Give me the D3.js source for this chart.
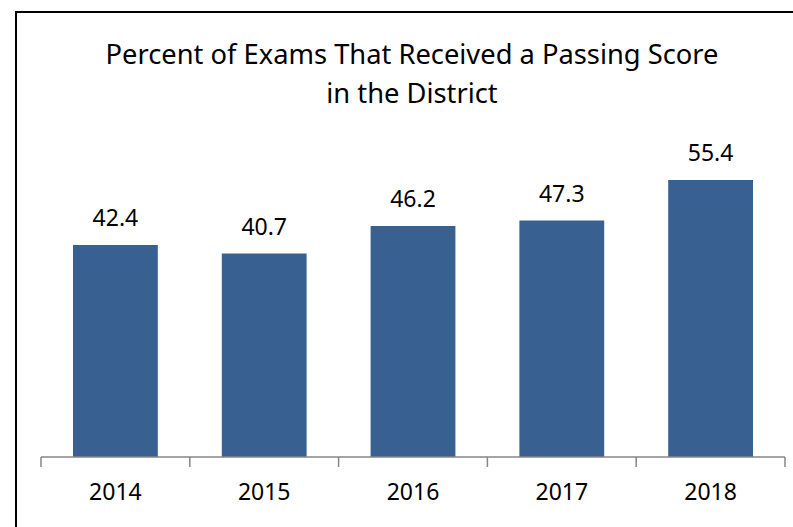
<!DOCTYPE html>
<html>
<head>
<meta charset="utf-8">
<script src="https://cdn.jsdelivr.net/npm/d3@7/dist/d3.min.js"></script>
<style>
  html, body { margin: 0; padding: 0; background: #fff; }
  svg { display: block; font-family: "Noto Sans", sans-serif; }
</style>
</head>
<body>
<div id="chart"></div>
<script>
const years = ["2014", "2015", "2016", "2017", "2018"];
const passRates = [42.4, 40.7, 46.2, 47.3, 55.4];
const titleLines = ["Percent of Exams That Received a Passing Score", "in the District"];

const width = 793;
const height = 527;
const margin = { top: 157, right: 8, bottom: 70, left: 41 };

const svg = d3.select("#chart")
  .append("svg")
  .attr("width", width)
  .attr("height", height);

// outer frame, cropped on the right and bottom
svg.append("rect")
  .attr("x", 16)
  .attr("y", 12)
  .attr("width", 800)
  .attr("height", 560)
  .attr("fill", "none")
  .attr("stroke", "#000")
  .attr("stroke-width", 2);

const x = d3.scaleBand()
  .domain(years)
  .range([margin.left, width - margin.right])
  .paddingInner(0.43)
  .paddingOuter(0.215);

const y = d3.scaleLinear()
  .domain([0, 60])
  .range([height - margin.bottom, margin.top]);

svg.append("g")
  .selectAll("text")
  .data(titleLines)
  .join("text")
  .attr("x", 412)
  .attr("y", (d, i) => 64 + i * 39)
  .attr("text-anchor", "middle")
  .attr("font-size", 27.3)
  .attr("fill", "#000")
  .text((d) => d);

svg.append("g")
  .selectAll("rect")
  .data(passRates)
  .join("rect")
  .attr("x", (d, i) => x(years[i]))
  .attr("y", (d) => y(d))
  .attr("width", x.bandwidth())
  .attr("height", (d) => y(0) - y(d))
  .attr("fill", "#386192");

svg.append("g")
  .selectAll("text")
  .data(passRates)
  .join("text")
  .attr("x", (d, i) => x(years[i]) + x.bandwidth() / 2)
  .attr("y", (d) => y(d) - 19)
  .attr("text-anchor", "middle")
  .attr("font-size", 23)
  .attr("fill", "#000")
  .text((d) => d.toFixed(1));

// category axis with ticks between the bars
const axisY = y(0);
const step = x.step();
const axis = svg.append("g").attr("stroke", "#868686").attr("stroke-width", 1.5);
axis.append("line")
  .attr("x1", margin.left)
  .attr("x2", width - margin.right)
  .attr("y1", axisY)
  .attr("y2", axisY);
axis.selectAll("line.tick")
  .data(d3.range(years.length + 1))
  .join("line")
  .attr("class", "tick")
  .attr("x1", (i) => margin.left + i * step)
  .attr("x2", (i) => margin.left + i * step)
  .attr("y1", axisY)
  .attr("y2", axisY + 10);

svg.append("g")
  .selectAll("text")
  .data(years)
  .join("text")
  .attr("x", (d) => x(d) + x.bandwidth() / 2)
  .attr("y", axisY + 43)
  .attr("text-anchor", "middle")
  .attr("font-size", 23)
  .attr("fill", "#000")
  .text((d) => d);
</script>
</body>
</html>
